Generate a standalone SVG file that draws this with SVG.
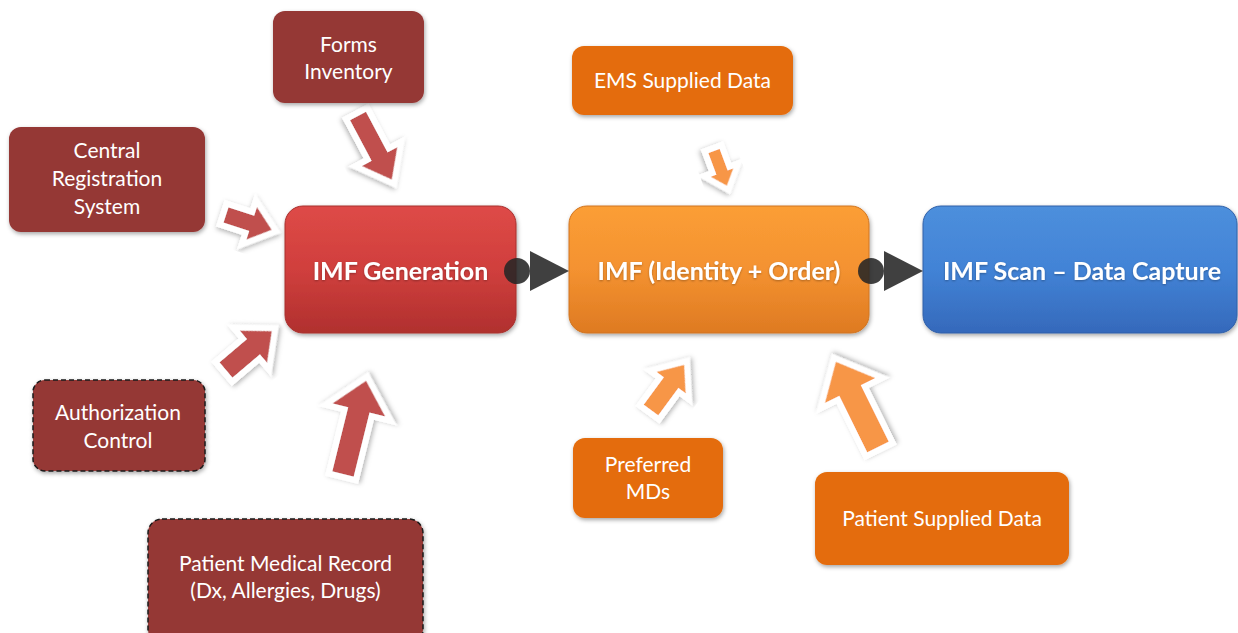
<svg xmlns="http://www.w3.org/2000/svg" width="1238" height="633" viewBox="0 0 1238 633">
<defs>
<linearGradient id="gRed" x1="0" y1="0" x2="0" y2="1">
<stop offset="0" stop-color="#de4a47"/><stop offset="0.5" stop-color="#d03f3d"/><stop offset="1" stop-color="#b0302e"/>
</linearGradient>
<linearGradient id="gOrg" x1="0" y1="0" x2="0" y2="1">
<stop offset="0" stop-color="#fb9e36"/><stop offset="0.5" stop-color="#f49230"/><stop offset="1" stop-color="#de7a22"/>
</linearGradient>
<linearGradient id="gBlu" x1="0" y1="0" x2="0" y2="1">
<stop offset="0" stop-color="#4d8fdc"/><stop offset="0.5" stop-color="#4283d6"/><stop offset="1" stop-color="#3569bb"/>
</linearGradient>
<filter id="sh" x="-20%" y="-20%" width="140%" height="150%">
<feDropShadow dx="1" dy="2" stdDeviation="2" flood-color="#000" flood-opacity="0.35"/>
</filter>
<filter id="ash" x="-40%" y="-40%" width="180%" height="180%">
<feDropShadow dx="1" dy="2" stdDeviation="2.5" flood-color="#000" flood-opacity="0.3"/>
</filter>
<filter id="tsh" x="-10%" y="-30%" width="120%" height="160%">
<feDropShadow dx="0" dy="1" stdDeviation="1" flood-color="#000" flood-opacity="0.3"/>
</filter>
</defs>
<style>
.small{fill:#953735;}
.sorg{fill:#e46c0a;}
.dash{stroke:#1a1a1a;stroke-width:1.5;stroke-dasharray:5 3;}
.t{font-family:Lato,"Liberation Sans",sans-serif;font-size:21px;fill:#fff;text-anchor:middle;}
.tb{font-family:Lato,"Liberation Sans",sans-serif;font-size:25px;font-weight:bold;fill:#fff;text-anchor:middle;filter:url(#tsh);}
.ar{stroke:#fff;stroke-width:12;stroke-linejoin:miter;paint-order:stroke;filter:url(#ash);}
.ared{fill:#c0504d;}
.aorg{fill:#f79646;}
.con{fill:#262626;fill-opacity:0.88;}
</style>

<g id="connectors">
<g id="arrow-forms" transform="translate(358,116) rotate(62)"><polygon class="ar ared" points="0,-9 46,-9 46,-20 72,0 46,20 46,9 0,9"/></g>
<g id="arrow-central" transform="translate(226,215) rotate(18)"><polygon class="ar ared" points="0,-8 27,-8 27,-17 48,0 27,17 27,8 0,8"/></g>
<g id="arrow-auth" transform="translate(226,370) rotate(-40.3)"><polygon class="ar ared" points="0,-10 36,-10 36,-21 60,0 36,21 36,10 0,10"/></g>
<g id="arrow-pmr" transform="translate(343,474) rotate(-76.1)"><polygon class="ar ared" points="0,-11 66,-11 66,-27 96,0 66,27 66,11 0,11"/></g>
<g id="arrow-ems" transform="translate(714,151) rotate(69.6)"><polygon class="ar aorg" points="0,-6 23,-6 23,-12 37,0 23,12 23,6 0,6"/></g>
<g id="arrow-pref" transform="translate(651,410) rotate(-53.7)"><polygon class="ar aorg" points="0,-9 34,-9 34,-18 56,0 34,18 34,9 0,9"/></g>
<g id="arrow-psd" transform="translate(878,447) rotate(-116.3)"><polygon class="ar aorg" points="0,-12 63,-12 63,-28 95,0 63,28 63,12 0,12"/></g>
</g>

<g id="forms-inventory">
<rect class="small" x="273" y="11" width="151" height="92" rx="12" filter="url(#sh)"/>
<text class="t" x="348.5" y="52">Forms</text>
<text class="t" x="348.5" y="79">Inventory</text>
</g>
<g id="central-registration">
<rect class="small" x="9" y="127" width="196" height="105" rx="12" filter="url(#sh)"/>
<text class="t" x="107" y="158">Central</text>
<text class="t" x="107" y="186">Registration</text>
<text class="t" x="107" y="214">System</text>
</g>
<g id="authorization-control">
<rect class="small dash" x="33" y="380" width="172" height="91" rx="12" filter="url(#sh)"/>
<text class="t" x="118" y="420">Authorization</text>
<text class="t" x="118" y="448">Control</text>
</g>
<g id="patient-medical-record">
<rect class="small dash" x="148" y="519" width="275" height="125" rx="14" filter="url(#sh)"/>
<text class="t" x="285.5" y="571">Patient Medical Record</text>
<text class="t" x="285.5" y="598">(Dx, Allergies, Drugs)</text>
</g>
<g id="ems-supplied-data">
<rect class="sorg" x="572" y="46" width="221" height="69" rx="12" filter="url(#sh)"/>
<text class="t" x="682.5" y="88">EMS Supplied Data</text>
</g>
<g id="preferred-mds">
<rect class="sorg" x="573" y="438" width="150" height="80" rx="12" filter="url(#sh)"/>
<text class="t" x="648" y="472">Preferred</text>
<text class="t" x="648" y="499">MDs</text>
</g>
<g id="patient-supplied-data">
<rect class="sorg" x="815" y="472" width="254" height="93" rx="12" filter="url(#sh)"/>
<text class="t" x="942" y="526">Patient Supplied Data</text>
</g>

<g id="imf-generation">
<rect x="285" y="206" width="231" height="127" rx="18" fill="url(#gRed)" stroke="#a8302e" stroke-width="1" filter="url(#sh)"/>
<text class="tb" x="400.5" y="280">IMF Generation</text>
</g>
<g id="imf-identity-order">
<rect x="569" y="206" width="300" height="127" rx="18" fill="url(#gOrg)" stroke="#d07420" stroke-width="1" filter="url(#sh)"/>
<text class="tb" x="719" y="280">IMF (Identity + Order)</text>
</g>
<g id="imf-scan">
<rect x="923" y="206" width="314" height="127" rx="18" fill="url(#gBlu)" stroke="#3060a8" stroke-width="1" filter="url(#sh)"/>
<text class="tb" x="1082" y="280">IMF Scan – Data Capture</text>
</g>

<g id="flow-connectors">
<circle class="con" cx="517" cy="271" r="13"/>
<polygon class="con" points="530,251 569,271 530,291"/>
<circle class="con" cx="871" cy="271" r="13"/>
<polygon class="con" points="884,251 923,271 884,291"/>
</g>
</svg>
